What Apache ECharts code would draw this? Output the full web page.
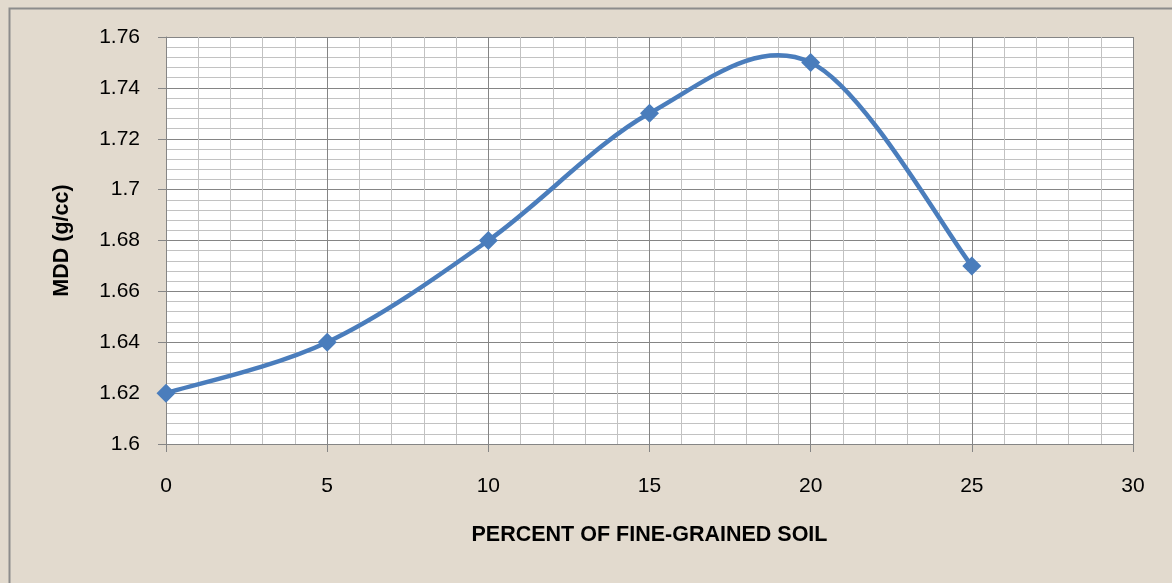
<!DOCTYPE html>
<html>
<head>
<meta charset="utf-8">
<title>MDD vs percent of fine-grained soil</title>
<script src="https://cdn.jsdelivr.net/npm/echarts@6/dist/echarts.min.js"></script>
<style>
  html, body { margin: 0; padding: 0; background: #e2dace; }
  #chart { width: 1172px; height: 583px; }
</style>
</head>
<body>
<div id="chart"></div>
<script>
// Percent of fine-grained soil (x) against maximum dry density (y)
const finesPercent = [0, 5, 10, 15, 20, 25];
const mddValues = [1.62, 1.64, 1.68, 1.73, 1.75, 1.67];

const xTitle = 'PERCENT OF FINE-GRAINED SOIL';
const yTitle = 'MDD (g/cc)';

const points = finesPercent.map((x, i) => [x, mddValues[i]]);

const labelFont = "'Liberation Sans', Arial, sans-serif";
const majorGrid = '#858585';
const minorGrid = '#c2c2c2';
const lineBlue = '#4a7dbc';

// Smoothed curve through the data (Catmull-Rom style cubic Bezier segments,
// the same kind of smoothing spreadsheet charts use, which may overshoot).
function renderSmoothCurve(params, api) {
  const p = points.map(d => api.coord(d));
  const n = p.length;
  let d = 'M' + p[0][0] + ' ' + p[0][1];
  for (let i = 0; i < n - 1; i++) {
    const p0 = p[Math.max(i - 1, 0)];
    const p1 = p[i];
    const p2 = p[i + 1];
    const p3 = p[Math.min(i + 2, n - 1)];
    const c1x = p1[0] + (p2[0] - p0[0]) / 6;
    const c1y = p1[1] + (p2[1] - p0[1]) / 6;
    const c2x = p2[0] - (p3[0] - p1[0]) / 6;
    const c2y = p2[1] - (p3[1] - p1[1]) / 6;
    d += ' C' + c1x + ' ' + c1y + ' ' + c2x + ' ' + c2y + ' ' + p2[0] + ' ' + p2[1];
  }
  return {
    type: 'path',
    shape: { pathData: d },
    style: { fill: 'none', stroke: lineBlue, lineWidth: 4.5, lineJoin: 'round', lineCap: 'round' },
    silent: true
  };
}

const chart = echarts.init(document.getElementById('chart'), null, { renderer: 'canvas' });

chart.setOption({
  backgroundColor: '#e2dace',
  animation: false,
  graphic: [{
    type: 'rect',
    left: 7, top: 6,
    shape: { width: 1200, height: 700 },
    style: { fill: 'none', stroke: '#8c8c8c', lineWidth: 2 },
    silent: true
  }],
  grid: {
    left: 166, right: 39, top: 37, bottom: 139,
    show: true, backgroundColor: '#ffffff', borderWidth: 0
  },
  xAxis: {
    type: 'value',
    min: 0, max: 30, interval: 5,
    name: xTitle,
    nameLocation: 'middle',
    nameGap: 80,
    nameTextStyle: { fontFamily: labelFont, fontWeight: 'bold', fontSize: 21.5, color: '#000' },
    axisLine: { show: true, lineStyle: { color: majorGrid, width: 1 } },
    axisTick: { show: true, inside: false, length: 8, lineStyle: { color: majorGrid } },
    axisLabel: { margin: 32, fontFamily: labelFont, fontSize: 21, color: '#000' },
    splitLine: { show: true, lineStyle: { color: majorGrid, width: 1 } },
    minorTick: { show: false, splitNumber: 5 },
    minorSplitLine: { show: true, lineStyle: { color: minorGrid, width: 1 } }
  },
  yAxis: {
    type: 'value',
    min: 1.6, max: 1.76, interval: 0.02,
    name: yTitle,
    nameLocation: 'middle',
    nameGap: 93,
    nameRotate: 90,
    nameTextStyle: { fontFamily: labelFont, fontWeight: 'bold', fontSize: 21.5, color: '#000' },
    axisLine: { show: true, lineStyle: { color: majorGrid, width: 1 } },
    axisTick: { show: true, inside: false, length: 8, lineStyle: { color: majorGrid } },
    axisLabel: {
      margin: 26, fontFamily: labelFont, fontSize: 21, color: '#000',
      formatter: v => String(parseFloat(v.toFixed(2)))
    },
    splitLine: { show: true, lineStyle: { color: majorGrid, width: 1 } },
    minorTick: { show: false, splitNumber: 5 },
    minorSplitLine: { show: true, lineStyle: { color: minorGrid, width: 1 } }
  },
  series: [
    {
      type: 'custom',
      name: 'MDD curve',
      data: [points[0]],
      renderItem: renderSmoothCurve,
      clip: false,
      z: 4
    },
    {
      type: 'scatter',
      name: 'MDD',
      data: points,
      symbol: 'diamond',
      symbolSize: 19,
      itemStyle: { color: lineBlue, opacity: 1 },
      clip: false,
      z: 5
    }
  ]
});
</script>
</body>
</html>
